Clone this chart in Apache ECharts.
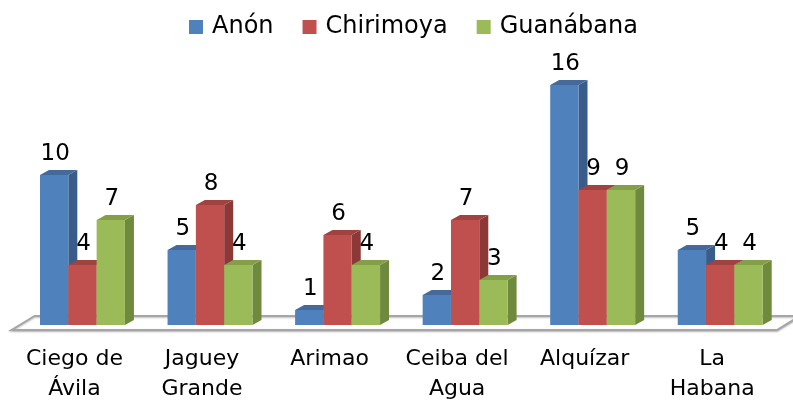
<!DOCTYPE html>
<html>
<head>
<meta charset="utf-8">
<script src="https://cdn.jsdelivr.net/npm/echarts@6/dist/echarts.min.js"></script>
</head>
<body style="margin:0">
<div id="chart" style="width:793px;height:404px"></div>
<script>
var categories = ['Ciego de\nÁvila', 'Jaguey\nGrande', 'Arimao', 'Ceiba del\nAgua', 'Alquízar', 'La\nHabana'];
var anon = [10, 5, 1, 2, 16, 5];
var chirimoya = [4, 8, 6, 7, 9, 4];
var guanabana = [7, 4, 4, 3, 9, 4];
var seriesNames = ['Anón', 'Chirimoya', 'Guanábana'];
var seriesValues = [anon, chirimoya, guanabana];

var frontColors = ['#4f81bd', '#c0504d', '#9bbb59'];
var sideColors = ['#385d8a', '#8c3836', '#6f8a3c'];
var topColors = ['#44699a', '#a04240', '#83a048'];

// fake 3d bar: front face, right side, top face
function barRenderer(s) {
    return function (params, api) {
        var cat = api.value(0), val = api.value(1);
        var base = api.coord([cat, 0]);
        var top = api.coord([cat, val]);
        var band = api.size([1, 0])[0];
        var bw = band * 0.222;
        var x0 = base[0] - 1.5 * bw + s * bw;
        var x1 = x0 + bw;
        var dx = 9, dy = -5;
        return {
            type: 'group',
            children: [
                { type: 'polygon', shape: { points: [[x1, top[1]], [x1 + dx, top[1] + dy], [x1 + dx, base[1] + dy], [x1, base[1]]] }, style: { fill: sideColors[s] } },
                { type: 'polygon', shape: { points: [[x0, top[1]], [x0 + dx, top[1] + dy], [x1 + dx, top[1] + dy], [x1, top[1]]] }, style: { fill: topColors[s] } },
                { type: 'rect', shape: { x: x0, y: top[1], width: bw, height: base[1] - top[1] }, style: { fill: frontColors[s] } },
                { type: 'text', x: x0 + bw / 2 + 1, y: top[1] - 21, z2: 10,
                  style: { text: String(val), fill: '#000', font: '23px "DejaVu Sans"', align: 'center', verticalAlign: 'middle' } }
            ]
        };
    };
}

function floorRenderer(params, api) {
    var first = api.coord([0, 0]);
    var last = api.coord([categories.length - 1, 0]);
    var band = api.size([1, 0])[0];
    var left = first[0] - band / 2, right = last[0] + band / 2;
    var y = first[1];
    return {
        type: 'polygon',
        shape: { points: [[left - 7, y + 5], [right - 7, y + 5], [right + 16, y - 9], [left + 16, y - 9]] },
        style: { fill: '#fff', stroke: '#a6a6a6', lineWidth: 2, shadowColor: 'rgba(0,0,0,0.25)', shadowBlur: 2, shadowOffsetY: 1 }
    };
}

var series = [{
    type: 'custom',
    name: 'floor',
    renderItem: floorRenderer,
    data: [[0, 0]],
    encode: { x: 0, y: 1 },
    silent: true
}];
for (var s = 0; s < 3; s++) {
    series.push({
        type: 'custom',
        name: seriesNames[s],
        renderItem: barRenderer(s),
        itemStyle: { color: frontColors[s] },
        encode: { x: 0, y: 1 },
        data: seriesValues[s].map(function (v, i) { return [i, v]; })
    });
}

var myChart = echarts.init(document.getElementById('chart'));
myChart.setOption({
    animation: false,
    legend: {
        data: seriesNames,
        left: 184,
        top: 10,
        icon: 'rect',
        itemWidth: 14,
        itemHeight: 14,
        itemGap: 29,
        textStyle: { fontFamily: 'DejaVu Sans', fontSize: 24, color: '#000', padding: [0, 0, 0, 4] }
    },
    grid: { left: 18.7, right: 9, top: 85, bottom: 77 },
    xAxis: {
        type: 'category',
        data: categories,
        axisLine: { show: false },
        axisTick: { show: false },
        splitLine: { show: false },
        axisLabel: {
            interval: 0,
            margin: 19,
            fontFamily: 'DejaVu Sans',
            fontSize: 22,
            lineHeight: 30,
            color: '#000',
            padding: [0, 16, 0, 0]
        }
    },
    yAxis: { type: 'value', min: 0, max: 16, show: false, splitLine: { show: false } },
    series: series
});
</script>
</body>
</html>
